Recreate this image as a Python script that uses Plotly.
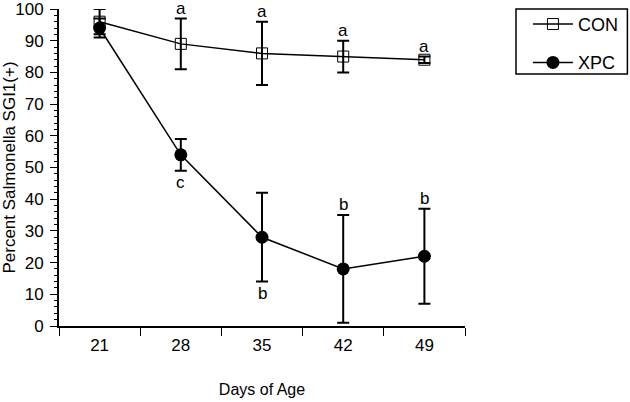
import plotly.graph_objects as go

days = ["21", "28", "35", "42", "49"]
con_mean = [96, 89, 86, 85, 84]
con_err = [4, 8, 10, 5, 1]
xpc_mean = [94, 54, 28, 18, 22]
xpc_err = [3, 5, 14, 17, 15]
con_letters = ["", "a", "a", "a", "a"]
xpc_letters = ["", "c", "b", "b", "b"]
xpc_letter_pos = ["", "below", "below", "above", "above"]

FONT = "Liberation Sans, Arial, Helvetica, sans-serif"
LF = dict(size=17, family=FONT, color="black")

fig = go.Figure()
fig.add_trace(go.Scatter(
    x=days, y=con_mean, name="CON", mode="lines+markers",
    legendgroup="con",
    line=dict(color="black", width=1.5),
    marker=dict(symbol="square-open", size=11, color="black", line=dict(width=1)),
    error_y=dict(type="data", array=con_err, visible=True, color="black", thickness=2, width=6),
    cliponaxis=False,
))
fig.add_trace(go.Scatter(
    x=days, y=xpc_mean, name="XPC", mode="lines+markers",
    legendgroup="xpc",
    line=dict(color="black", width=1.5),
    marker=dict(symbol="circle", size=13, color="black"),
    error_y=dict(type="data", array=xpc_err, visible=True, color="black", thickness=2, width=6),
    cliponaxis=False,
))

annotations = []
for i, (m, e, t) in enumerate(zip(con_mean, con_err, con_letters)):
    if t:
        annotations.append(dict(x=i, y=m + e, xref="x", yref="y", text=t, showarrow=False,
                                yanchor="bottom", yshift=-1, font=LF))
for i, (m, e, t, p) in enumerate(zip(xpc_mean, xpc_err, xpc_letters, xpc_letter_pos)):
    if t:
        if p == "above":
            annotations.append(dict(x=i, y=m + e, xref="x", yref="y", text=t, showarrow=False,
                                    yanchor="bottom", yshift=-1, font=LF))
        else:
            annotations.append(dict(x=i, y=m - e, xref="x", yref="y", text=t, showarrow=False,
                                    yanchor="top", yshift=0, font=LF))

fig.update_layout(
    width=630, height=402,
    margin=dict(l=59, r=165, t=9, b=76, autoexpand=False),
    paper_bgcolor="white", plot_bgcolor="white",
    font=dict(family=FONT, size=17, color="black"),
    showlegend=True,
    legend=dict(x=1.155, y=1.01, xanchor="left", yanchor="top",
                borderwidth=0, bgcolor="rgba(0,0,0,0)",
                font=dict(size=18, family=FONT), itemwidth=40,
                tracegroupgap=12, traceorder="grouped"),
    shapes=[dict(type="rect", xref="paper", yref="paper", x0=1.1256, x1=1.40, y0=0.795, y1=1.0,
                 line=dict(color="black", width=1.5), layer="above")],
    annotations=annotations,
    xaxis=dict(type="category", range=[-0.5, 4.5], showline=True, linecolor="black", linewidth=2,
               ticks="outside", tickson="boundaries", ticklen=8, tickwidth=1, tickcolor="black",
               showgrid=False, zeroline=False, tickfont=dict(size=17), automargin=False,
               ticklabelstandoff=3,
               title=dict(text="Days of Age", font=dict(size=16), standoff=29)),
    yaxis=dict(range=[0, 100], dtick=10, showline=True, linecolor="black", linewidth=2,
               ticks="outside", ticklen=7, tickwidth=1, tickcolor="black",
               minor=dict(dtick=2, ticks="outside", ticklen=3, tickcolor="black", tickwidth=1),
               showgrid=False, zeroline=False, tickfont=dict(size=17), automargin=False,
               ticklabeloverflow="allow", ticklabelstandoff=3,
               title=dict(text="Percent Salmonella SGI1(+)", font=dict(size=17), standoff=4)),
)

fig.write_html("out.html", config={"displayModeBar": False},
               post_script="document.body.style.margin='0';document.body.style.padding='0';")
